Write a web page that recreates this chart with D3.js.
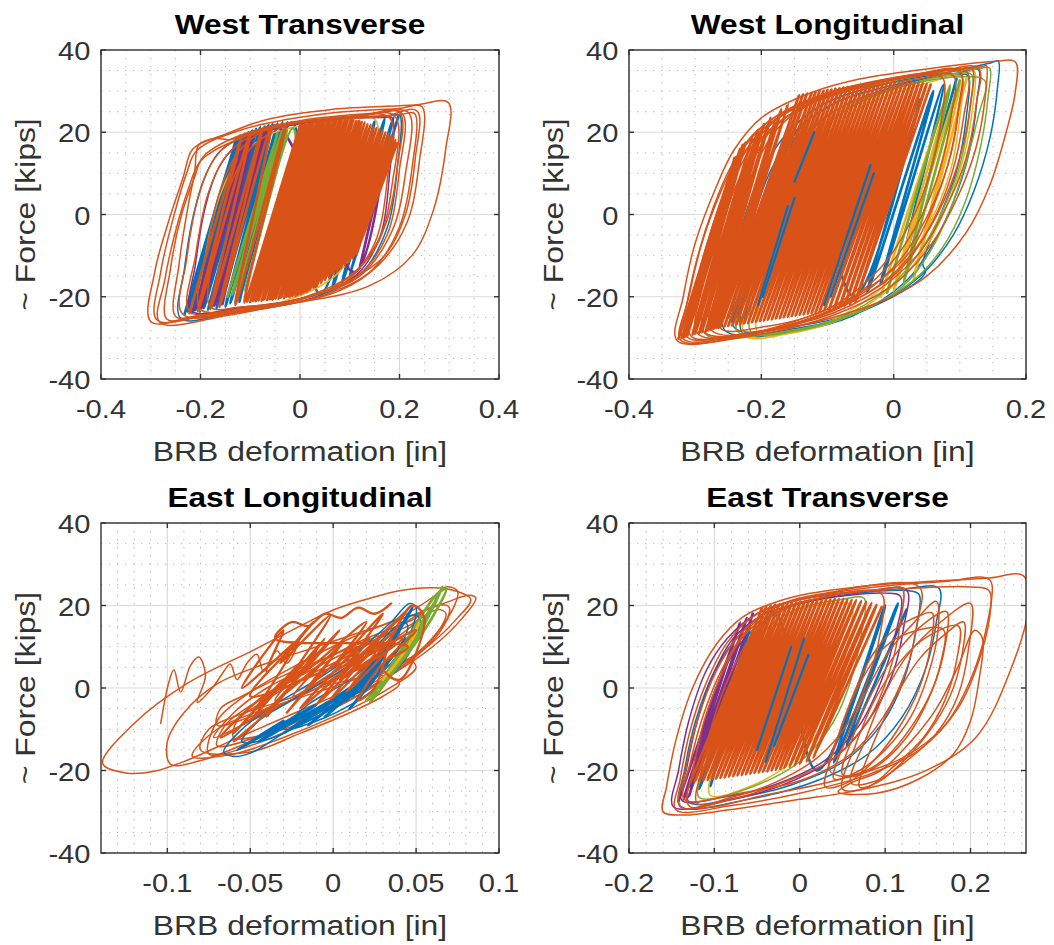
<!DOCTYPE html>
<html>
<head>
<meta charset="utf-8">
<script src="https://cdn.jsdelivr.net/npm/d3@7"></script>
<style>
body { margin: 0; background: #fff; }
svg { display: block; }
</style>
</head>
<body>
<svg id="chart" width="1054" height="945"></svg>
<script>
/***************************************************************************************************
BRB hysteresis, four braces. Each loop / trace is a flat list x0,y0,x1,y1,... read off the figure
(deformation in inches, force in kips).
***************************************************************************************************/

var yTicks = [-40, -20, 0, 20, 40];
var yLabels = ['-40', '-20', '0', '20', '40'];

// ---- West Transverse
var wtXTicks = [-0.4, -0.2, 0, 0.2, 0.4];
var wtXLabels = ['-0.4', '-0.2', '0', '0.2', '0.4'];

var wtBlueLoops = [
	[-0.240,-25.2, -0.232,-13, -0.212,1, -0.188,10, -0.160,15.5, -0.090,20, 0.040,23, 0.180,24, 0.200,24.2, 0.196,12, 0.176,-3, 0.125,-14, 0.020,-20.5, -0.140,-24]
];
var wtBlueTrace = [
	-0.232,-24.2, -0.128,18.6, -0.225,-23.6, -0.121,19.2, -0.217,-24.0, -0.112,19.6, -0.209,-23.2, -0.104,20.0,
	-0.201,-23.6, -0.096,20.4, -0.193,-22.8, -0.088,20.8, -0.185,-23.2, -0.080,21.2, -0.176,-22.4, -0.071,21.4,
	-0.168,-22.8, -0.063,21.8, -0.160,-22.0, -0.055,22.0, -0.150,-22.4, -0.045,22.2, -0.140,-21.6, -0.035,22.4,
	-0.130,-21.4, -0.025,22.4, -0.122,-21.2, -0.016,22.4,
	0.040,-19.5, 0.150,22.6, 0.065,-18.0, 0.170,23.2, 0.085,-16.5, 0.188,23.6, 0.100,-15, 0.198,24.0
];
var wtYellowLoops = [
	[-0.200,-23.2, -0.190,-10, -0.160,5, -0.120,14, -0.060,19.5, 0.050,22.5, 0.150,23.2, 0.146,10, 0.120,-6, 0.070,-15, -0.030,-21, -0.130,-23]
];
var wtPurpleLoops = [
	[-0.218,-23.4, -0.210,-12, -0.190,2, -0.165,11, -0.130,16.5, -0.060,20.5, 0.060,23, 0.170,23.6, 0.185,23.5, 0.180,10, 0.162,-5, 0.115,-14.5, 0.020,-20, -0.120,-22.6]
];
var wtPurpleTrace = [
	-0.212,-23.2, -0.108,19.4, -0.198,-22.8, -0.094,20.0, -0.172,-22.2, -0.068,21.0, -0.156,-21.8, -0.052,21.6,
	0.110,-14, 0.170,14, 0.120,-13, 0.175,16
];
var wtGreenTrace = [
	-0.146,-20, -0.045,20, -0.136,-19.5, -0.036,20.4, -0.124,-19, -0.026,20.6, -0.110,-18.5, -0.014,21, 0.000,-10, 0.055,22.5
];
var wtOrangeLoops = [
	[-0.300,-26.0, -0.292,-14, -0.265,-2, -0.235,9, -0.215,16, -0.150,19.5, -0.070,23, 0.060,25.5, 0.230,26.6, 0.298,27.2, 0.293,16, 0.268,1, 0.225,-10, 0.140,-17.3, 0.000,-21.3, -0.200,-24.6],
	[-0.288,-25.6, -0.280,-14, -0.255,-1, -0.228,10, -0.208,15.5, -0.120,20.5, 0.050,24.5, 0.200,25.8, 0.245,26.2, 0.240,13, 0.215,-2, 0.160,-12, 0.080,-18.5, -0.080,-23, -0.200,-25],
	[-0.268,-25.4, -0.260,-13, -0.238,0, -0.212,9, -0.195,14, -0.130,18.8, 0.000,22.8, 0.150,24.6, 0.218,24.8, 0.212,10, 0.185,-4, 0.120,-15, 0.030,-19.5, -0.120,-23.5, -0.220,-25.2],
	[-0.250,-24.8, -0.243,-12, -0.225,2, -0.212,10, -0.203,17, -0.170,18.5, -0.140,18.2, -0.060,21.5, 0.100,23.5, 0.190,24, 0.186,8, 0.152,-8, 0.070,-17.5, -0.080,-22.5, -0.200,-24.5],
	[-0.236,-24.2, -0.228,-11, -0.205,4, -0.180,12, -0.150,16.5, -0.080,20.5, 0.060,23.2, 0.200,24.2, 0.230,24.6, 0.226,12, 0.200,-3, 0.145,-13.5, 0.050,-19.5, -0.100,-23.2],
	[-0.222,-23.6, -0.210,-10, -0.185,5, -0.150,14, -0.100,19, 0.000,22.5, 0.130,24.2, 0.205,24.6, 0.200,11, 0.175,-5, 0.120,-14.5, 0.020,-20, -0.120,-23],
	[-0.200,-23, -0.188,-9, -0.160,6, -0.125,15, -0.070,20.5, 0.040,23, 0.165,23.8, 0.235,25.2, 0.232,14, 0.212,0, 0.170,-10, 0.100,-16, 0.000,-20.5, -0.110,-22.8],
	[-0.180,-22.5, -0.170,-8, -0.140,7, -0.100,16, -0.030,21.5, 0.080,23.5, 0.180,23.5, 0.176,9, 0.150,-7, 0.090,-16.5, -0.020,-21, -0.120,-22.5],
	[-0.282,-26.2, -0.272,-16, -0.250,-4, -0.225,6, -0.200,13, -0.140,17.5, -0.040,21.5, 0.120,24, 0.200,24.8, 0.196,12, 0.170,-3, 0.110,-14, 0.000,-20.5, -0.150,-24.6]
];
var wtOrangeTrace = [
	-0.222,-24, -0.118,19, -0.205,-23.5, -0.100,19.8, -0.180,-23, -0.076,20.8, -0.162,-22.5, -0.058,21.6, -0.130,-22, -0.028,22,
	-0.112,-21.4, 0.000,21.6, -0.106,-21.2, 0.004,21.8, -0.100,-21.3, 0.010,21.9, -0.094,-21.0, 0.016,22.1,
	-0.089,-21.1, 0.022,22.2, -0.083,-20.9, 0.027,22.4, -0.077,-21.0, 0.033,22.4, -0.072,-20.7, 0.038,22.6,
	-0.066,-20.8, 0.044,22.6, -0.060,-20.6, 0.050,22.8, -0.055,-20.7, 0.056,22.8, -0.049,-20.4, 0.061,22.9,
	-0.043,-20.5, 0.067,22.9, -0.038,-20.2, 0.073,23.0, -0.032,-20.3, 0.079,23.0, -0.026,-20.0, 0.084,23.1,
	-0.021,-20.1, 0.090,23.0, -0.015,-19.8, 0.096,23.1, -0.009,-19.8, 0.102,23.0, -0.004,-19.5, 0.107,23.0,
	0.002,-19.4, 0.113,22.8, 0.008,-19.0, 0.119,22.8, 0.014,-18.8, 0.124,22.5, 0.020,-18.3, 0.130,22.4,
	0.027,-17.8, 0.136,22.0, 0.034,-17.4, 0.142,21.8, 0.042,-16.7, 0.148,21.4, 0.050,-16.0, 0.154,21.1,
	0.058,-15.3, 0.160,20.7, 0.066,-14.6, 0.166,20.4, 0.074,-13.9, 0.172,20.0, 0.082,-13.1, 0.178,19.6,
	0.090,-12.3, 0.184,19.2, 0.098,-11.5, 0.188,18.7, 0.106,-10.6, 0.192,18.1, 0.114,-9.6, 0.195,17.3
];

// ---- West Longitudinal
var wlXTicks = [-0.4, -0.2, 0, 0.2];
var wlXLabels = ['-0.4', '-0.2', '0', '0.2'];

var wlBlueLoops = [
	[-0.255,-28.2, -0.247,-16, -0.228,-2, -0.200,10, -0.165,19, -0.110,26.5, -0.020,31.5, 0.080,34.5, 0.145,36.8, 0.158,37.3, 0.157,31, 0.146,19, 0.122,6, 0.090,-5, 0.040,-15, -0.040,-23, -0.140,-27.5],
	[-0.240,-27.6, -0.232,-15, -0.212,-1, -0.185,11, -0.150,20, -0.090,27, 0.000,31.5, 0.100,34, 0.112,33.8, 0.110,24, 0.094,10, 0.066,-2, 0.044,-12, 0.048,-14, 0.030,-17, -0.050,-23.5, -0.150,-27.2],
	[-0.228,-28.8, -0.220,-16, -0.200,-2, -0.172,10, -0.135,19, -0.075,26.5, 0.010,31.5, 0.100,34.5, 0.128,35.2, 0.126,28, 0.114,15, 0.090,3, 0.060,-7, 0.020,-16, -0.060,-24.5, -0.150,-28.4]
];
var wlBlueTrace = [
	-0.250,-25.0, -0.170,15.0, -0.244,-26.0, -0.160,17.5, -0.236,-25.2, -0.150,18.5, -0.228,-26.2, -0.140,21.0,
	-0.060,-20, 0.040,28, -0.040,-19, 0.060,30, -0.020,-17, 0.075,31.5, 0.010,-14, 0.095,33
];
var wlYellowLoops = [
	[-0.225,-29.4, -0.215,-17, -0.195,-3, -0.165,9, -0.125,19, -0.060,27, 0.030,32, 0.110,34.6, 0.122,34.8, 0.120,27, 0.106,14, 0.080,2, 0.045,-9, -0.005,-18, -0.080,-25.5, -0.160,-29],
	[-0.205,-28.8, -0.196,-17, -0.176,-3, -0.148,9, -0.110,18, -0.050,26, 0.030,31, 0.095,33.6, 0.104,33.2, 0.101,25, 0.088,12, 0.064,1, 0.030,-9, -0.015,-17.5, -0.090,-25.5, -0.150,-28.5]
];
var wlYellowTrace = [-0.020,-20, 0.085,31, 0.000,-18.5, 0.100,32, 0.030,-16, 0.110,33];
var wlGreenLoops = [
	[-0.285,-29.0, -0.276,-18, -0.258,-5, -0.236,7, -0.205,17, -0.150,25, -0.060,30.5, 0.050,34, 0.130,35.5, 0.145,35.6, 0.143,29, 0.132,17, 0.108,3, 0.074,-8, 0.030,-16, -0.060,-24, -0.170,-28.6],
	[-0.235,-28.6, -0.226,-17, -0.205,-3, -0.178,9, -0.140,19, -0.080,26, 0.010,31, 0.100,33.5, 0.138,32.5, 0.128,24, 0.110,13, 0.085,1, 0.055,-9, 0.010,-18, -0.080,-25.5, -0.160,-28.4],
	[-0.215,-28.6, -0.206,-16, -0.186,-2, -0.158,10, -0.120,19, -0.060,26.5, 0.020,31.5, 0.108,34.5, 0.118,34.0, 0.115,25, 0.100,12, 0.074,1, 0.040,-9, -0.005,-17.5, -0.080,-25, -0.150,-28.4]
];
var wlGreenTrace = [-0.010,-19, 0.085,31.5, 0.015,-17, 0.100,32.6];
var wlOrangeLoops = [
	[-0.327,-30.7, -0.318,-20, -0.300,-7, -0.270,6, -0.242,15.5, -0.200,23.5, -0.125,29.6, -0.050,33, 0.050,35.4, 0.150,37.2, 0.184,37.1, 0.184,30, 0.170,20, 0.145,7, 0.110,-4.3, 0.050,-15, -0.010,-20.5, -0.100,-25.4, -0.200,-28.6],
	[-0.318,-30.2, -0.308,-19, -0.288,-6, -0.260,6, -0.232,15, -0.190,22.5, -0.110,29, 0.000,33, 0.080,34.5, 0.118,35.4, 0.116,27, 0.102,15, 0.075,3, 0.035,-8, -0.020,-17, -0.120,-25, -0.220,-29],
	[-0.306,-29.6, -0.297,-18, -0.278,-5, -0.252,7, -0.222,16, -0.180,23, -0.100,29.5, 0.010,33.2, 0.100,34.5, 0.098,25, 0.082,12, 0.052,0, 0.010,-11, -0.050,-19.5, -0.150,-26.5, -0.240,-29.3],
	[-0.296,-29.0, -0.288,-17, -0.268,-3, -0.240,9, -0.210,17.5, -0.165,24.5, -0.080,30, 0.030,33.5, 0.110,34.8, 0.106,24, 0.088,10, 0.058,-2, 0.012,-13, -0.060,-21, -0.170,-27.6],
	[-0.286,-28.6, -0.278,-16, -0.258,-2, -0.230,10, -0.200,18.5, -0.150,25, -0.070,30, 0.040,33, 0.090,33.8, 0.087,24, 0.070,11, 0.040,-1, -0.005,-12, -0.080,-22, -0.190,-28],
	[-0.275,-28.2, -0.266,-15, -0.246,-1, -0.218,11, -0.190,19.5, -0.140,26, -0.060,31, 0.050,34, 0.128,35.6, 0.125,27, 0.110,14, 0.080,2, 0.035,-10, -0.040,-20, -0.150,-26.8],
	[-0.262,-27.6, -0.254,-14, -0.235,0, -0.208,12, -0.178,20.5, -0.125,27, -0.040,31.5, 0.060,34, 0.075,33, 0.072,23, 0.055,10, 0.025,-2, -0.020,-13, -0.100,-23, -0.200,-27.4],
	[-0.322,-30.5, -0.313,-22, -0.296,-10, -0.272,2, -0.248,11, -0.215,19, -0.160,25.5, -0.080,30.5, 0.020,33.8, 0.135,36, 0.140,36.2, 0.138,28, 0.124,16, 0.096,4, 0.058,-7, 0.000,-17, -0.100,-25, -0.220,-29.6],
	[-0.312,-29.8, -0.302,-20, -0.284,-8, -0.258,4, -0.232,13, -0.200,20.5, -0.140,26.5, -0.060,31, 0.040,34.3, 0.100,35, 0.098,26, 0.085,14, 0.060,2, 0.020,-10, -0.050,-19, -0.150,-26, -0.240,-29.5]
];
var wlOrangeTrace = [
	-0.325,-30.2, -0.240,14.0, -0.320,-30.0, -0.232,16.0, -0.316,-29.8, -0.228,17.0, -0.312,-29.6, -0.224,17.5,
	-0.304,-29.2, -0.214,18.6, -0.300,-29.0, -0.205,20.5, -0.294,-28.8, -0.204,19.8, -0.290,-28.6, -0.196,22.0,
	-0.284,-28.4, -0.192,21.0, -0.280,-28.2, -0.186,23.5, -0.276,-28.0, -0.180,22.4, -0.272,-27.8, -0.170,25.5,
	-0.265,-27.6, -0.160,26.8,
	-0.268,-27.6, -0.143,29.0, -0.262,-27.4, -0.137,29.2, -0.256,-27.3, -0.131,29.4, -0.250,-27.1, -0.124,29.6,
	-0.244,-27.0, -0.118,29.8, -0.238,-26.8, -0.112,30.0, -0.232,-26.7, -0.106,30.1, -0.226,-26.5, -0.100,30.3,
	-0.220,-26.4, -0.094,30.4, -0.214,-26.2, -0.088,30.6, -0.208,-26.1, -0.082,30.7, -0.202,-25.9, -0.076,30.9,
	-0.196,-25.8, -0.070,31.0, -0.190,-25.6, -0.064,31.1, -0.184,-25.5, -0.058,31.2, -0.178,-25.3, -0.052,31.3,
	-0.172,-25.2, -0.046,31.4, -0.166,-25.0, -0.040,31.5, -0.160,-24.9, -0.034,31.6, -0.154,-24.7, -0.028,31.7,
	-0.148,-24.6, -0.022,31.8, -0.142,-24.4, -0.016,31.9, -0.136,-24.3, -0.010,32.0, -0.130,-24.1, -0.004,32.0,
	-0.124,-24.0, 0.002,32.1, -0.118,-23.8, 0.008,32.1, -0.112,-23.6, 0.014,32.2, -0.105,-23.4, 0.020,32.2,
	-0.098,-23.2, 0.026,32.2, -0.090,-22.9, 0.032,32.2, -0.082,-22.6, 0.038,32.1, -0.074,-22.2, 0.044,32.0,
	-0.066,-21.8, 0.050,31.8, -0.058,-21.3, 0.056,31.6
];
var wlBlueTop = [
	[-0.205,-22, -0.160,2], [-0.198,-20, -0.150,4], [-0.105,-22, -0.035,12], [-0.095,-20, -0.030,10], [-0.150,8, -0.120,20]
];

// ---- East Longitudinal
var elXTicks = [-0.1, -0.05, 0, 0.05, 0.1];
var elXLabels = ['-0.1', '-0.05', '0', '0.05', '0.1'];

var elOrangeLoops = [
	[-0.139,-18.3, -0.125,-20.6, -0.108,-20.2, -0.088,-17.5, -0.060,-12.5, -0.020,-5.5, 0.020,1.5, 0.055,9.5, 0.075,17, 0.083,21.5, 0.074,23.5, 0.060,24.3, 0.040,23.6, 0.020,21.5, 0.000,18.9, -0.020,15, -0.048,9.2, -0.088,1.1, -0.120,-8.6],
	[-0.098,-18.5, -0.080,-17.6, -0.050,-13, -0.010,-6, 0.030,2, 0.060,10, 0.078,17, 0.086,21.8, 0.082,22.5, 0.070,21, 0.050,18, 0.020,14, -0.010,10, -0.040,6, -0.070,1, -0.090,-6, -0.100,-13],
	[-0.075,-16, -0.050,-14, -0.010,-7, 0.030,2, 0.055,10, 0.072,19, 0.075,23.5, 0.068,24.5, 0.060,22, 0.040,17, 0.010,12, -0.020,6, -0.050,-1, -0.070,-8],
	[-0.070,-14, -0.040,-11, 0.000,-4, 0.035,4, 0.060,12, 0.068,18, 0.063,19, 0.045,15, 0.015,10, -0.015,4, -0.045,-3, -0.065,-9],
	[-0.060,-12, -0.030,-10, 0.010,-3, 0.045,6, 0.065,14, 0.070,19.5, 0.062,20, 0.040,15, 0.010,8, -0.020,2, -0.045,-4, -0.058,-8],
	[-0.080,-15, -0.050,-15.5, -0.020,-11, 0.010,-6, 0.030,-2, 0.040,1, 0.030,3, 0.000,1, -0.030,-3, -0.060,-7, -0.075,-10],
	[-0.072,-12, -0.060,-6, -0.040,0, -0.010,6, 0.020,12, 0.050,17, 0.055,19, 0.050,16, 0.030,10, 0.000,3, -0.030,-4, -0.055,-9],
	[-0.085,-16.5, -0.060,-16, -0.030,-12, 0.000,-7, 0.030,-1, 0.050,5, 0.045,7, 0.020,3, -0.010,-1, -0.040,-5, -0.070,-10],
	[-0.070,-9, -0.050,-7, -0.020,-2, 0.010,4, 0.035,10, 0.040,14, 0.030,13, 0.000,8, -0.030,3, -0.055,-2, -0.068,-5]
];
var elBlueLoops = [
	[-0.066,-15.5, -0.060,-16.6, -0.050,-15.8, -0.030,-11, 0.000,-4, 0.030,4, 0.045,12, 0.050,19.5, 0.046,20.5, 0.035,16, 0.015,9, -0.010,2, -0.035,-4, -0.055,-10],
	[-0.055,-13, -0.040,-12.5, -0.015,-8, 0.015,-1, 0.035,7, 0.045,15, 0.042,16, 0.025,10, 0.000,3, -0.025,-3, -0.045,-8],
	[-0.030,-10, -0.010,-8, 0.015,-3, 0.035,3, 0.048,10, 0.052,17, 0.047,17.5, 0.030,9, 0.010,2, -0.015,-4]
];
var elBlueTrace = [
	0.000,-5, 0.036,12, 0.004,-4, 0.040,14, 0.008,-3, 0.043,16, 0.012,-2, 0.046,18, 0.016,-1, 0.048,19.5, 0.020,0, 0.044,12,
	0.010,-5, 0.032,6, -0.005,-7, 0.026,4, -0.015,-9, 0.018,2, -0.030,-11, 0.008,-1, -0.045,-13, -0.010,-4, -0.058,-15, -0.030,-8
];
var elGreenTrace = [0.020,-3, 0.050,12, 0.066,24.5, 0.060,20, 0.040,8, 0.028,0, 0.055,14, 0.068,24, 0.062,22.5, 0.045,12, 0.022,-3.5, 0.040,6, 0.058,18, 0.064,23];
var elYellowTrace = [0.030,2, 0.045,10, 0.052,16, 0.048,12];
var elOrangeWiggle = [
	-0.104,-8.6, -0.099,1.5, -0.096,4.4, -0.092,-1, -0.086,5.5, -0.081,7.5, -0.077,3, -0.082,-3.5, -0.072,0.5, -0.066,4,
	-0.062,5.8, -0.058,2, -0.052,6, -0.046,8.2, -0.042,4, -0.034,9, -0.028,6, -0.020,12
];
var elOrangeTrace = [
	-0.020,12, -0.045,-4, -0.060,-11, -0.030,2, -0.050,-8, -0.018,7, -0.045,-5, -0.010,9, -0.040,-7, -0.005,12, -0.035,-3, 0.000,8,
	-0.028,-6, 0.006,11, -0.024,-2, 0.010,6, -0.020,-5, 0.014,10, -0.015,0, 0.018,8, -0.010,-4, 0.022,12, -0.006,1,
	0.026,9, -0.002,-3, 0.030,13, 0.004,2, 0.034,10, 0.008,-1, 0.038,14, 0.012,4, 0.042,12,
	-0.050,-2, -0.020,12, -0.055,0, -0.030,14, -0.040,4, -0.012,16, -0.032,6, -0.002,17.5, -0.026,2, 0.004,14,
	-0.048,-9, -0.060,-13, -0.035,-4, -0.068,-12, -0.042,-2, -0.020,3, 0.020,16, 0.000,5, 0.030,18, 0.010,6,
	0.045,19, 0.020,8, 0.050,14, 0.030,5, 0.040,2, 0.055,17, 0.048,20, 0.035,12, 0.025,0, 0.015,-3, 0.030,6, 0.045,10,
	-0.035,12, -0.025,16, -0.015,15, -0.005,18, 0.005,17, 0.015,19.5, 0.025,18, 0.035,20.5
];

// ---- East Transverse
var etXTicks = [-0.2, -0.1, 0, 0.1, 0.2];
var etXLabels = ['-0.2', '-0.1', '0', '0.1', '0.2'];

var etBlueLoops = [
	[-0.140,-28.6, -0.135,-20, -0.122,-8, -0.100,4, -0.070,13, -0.030,19.5, 0.040,22.8, 0.120,24, 0.163,24.2, 0.160,16, 0.148,5, 0.120,-7, 0.080,-16, 0.020,-22.5, -0.060,-27],
	[-0.130,-27.6, -0.124,-19, -0.110,-7, -0.090,4, -0.060,13, -0.020,19, 0.050,22.5, 0.130,23.5, 0.140,22.6, 0.136,14, 0.122,2, 0.095,-9, 0.050,-18, -0.010,-23.5, -0.070,-26.5]
];
var etBlueTrace = [
	-0.128,-24, -0.058,15, -0.118,-24.5, -0.046,16, -0.105,-23.8, -0.030,18,
	0.020,-20, 0.100,20, 0.040,-18, 0.115,20.5, 0.055,-14, 0.125,19
];
var etYellowLoops = [
	[-0.105,-26, -0.098,-17, -0.082,-6, -0.062,5, -0.038,13, -0.005,18.5, 0.040,20.5, 0.060,20.2, 0.056,11, 0.044,0, 0.024,-10, -0.010,-18, -0.060,-24]
];
var etPurpleLoops = [
	[-0.148,-28.8, -0.142,-20, -0.130,-8, -0.110,4, -0.085,12, -0.050,18, 0.000,21.5, 0.080,23.5, 0.125,23.8, 0.122,15, 0.108,3, 0.080,-8, 0.040,-17, -0.020,-23.5, -0.090,-27.5],
	[-0.138,-27.2, -0.132,-19, -0.120,-8, -0.102,3, -0.078,12, -0.045,17.5, 0.010,21, 0.100,23, 0.118,22.2, 0.112,13, 0.096,2, 0.070,-9, 0.030,-17.5, -0.030,-23.5, -0.090,-26.5]
];
var etPurpleTrace = [-0.142,-27.5, -0.070,16, -0.136,-27, -0.062,17, -0.130,-26.5, -0.055,18];
var etGreenLoops = [
	[-0.118,-26.5, -0.110,-18, -0.095,-6, -0.072,5, -0.045,13, -0.010,18.5, 0.050,21.5, 0.075,21.8, 0.072,13, 0.060,2, 0.040,-8, 0.005,-17, -0.050,-23.5]
];
var etOrangeLoops = [
	[-0.160,-30.0, -0.156,-23.9, -0.144,-11.8, -0.125,0.3, -0.097,10.8, -0.066,17.3, -0.007,22.1, 0.071,24.6, 0.149,25.8, 0.219,26.6, 0.262,27.2, 0.268,20, 0.247,4.4, 0.207,-11.8, 0.149,-19.9, 0.071,-24.7, -0.007,-27.2, -0.085,-29.6, -0.136,-30.8],
	[-0.145,-29.5, -0.140,-22, -0.128,-10, -0.110,1, -0.085,11, -0.050,18, 0.010,22, 0.090,24.5, 0.170,25.8, 0.222,26.3, 0.224,20, 0.212,8, 0.185,-5, 0.140,-15, 0.080,-21, 0.000,-25.5, -0.080,-28.5],
	[-0.130,-28.5, -0.125,-20, -0.112,-8, -0.092,3, -0.068,12, -0.030,18.5, 0.040,22.5, 0.120,24, 0.200,24.5, 0.222,23.5, 0.218,14, 0.200,2, 0.170,-9, 0.120,-17, 0.050,-22, -0.030,-25.5],
	[-0.140,-28.8, -0.134,-20, -0.120,-8, -0.098,4, -0.070,13, -0.030,19.5, 0.030,22.5, 0.100,24, 0.120,24.2, 0.118,16, 0.105,4, 0.080,-8, 0.040,-17, -0.020,-23, -0.080,-27],
	[-0.120,-28, -0.114,-19, -0.100,-7, -0.080,4, -0.055,13, -0.020,19, 0.040,22.5, 0.090,23.5, 0.098,22, 0.094,13, 0.080,2, 0.055,-9, 0.020,-17, -0.030,-23, -0.080,-26.5],
	[-0.135,-27, -0.128,-18, -0.112,-6, -0.090,5, -0.062,14, -0.025,20, 0.030,23, 0.140,24.5, 0.138,16, 0.124,4, 0.098,-7, 0.060,-16, 0.000,-22.5, -0.070,-25.5],
	[0.030,-24, 0.040,-15, 0.060,-3, 0.085,8, 0.110,14, 0.140,17.5, 0.155,18.2, 0.153,10, 0.140,0, 0.115,-10, 0.085,-18, 0.060,-22.5],
	[0.035,-20, 0.048,-10, 0.070,1, 0.100,10, 0.130,13.5, 0.168,14.2, 0.165,6, 0.150,-3, 0.125,-12, 0.090,-19, 0.060,-21.5],
	[0.050,-24.5, 0.065,-14, 0.090,-2, 0.120,7, 0.150,12.5, 0.186,15, 0.184,7, 0.170,-3, 0.145,-12, 0.110,-19, 0.080,-24],
	[0.060,-23, 0.078,-12, 0.100,-1, 0.130,9, 0.165,16, 0.200,20.5, 0.198,10, 0.185,-2, 0.160,-11, 0.120,-18.5, 0.090,-22.5],
	[0.040,-22, 0.055,-12, 0.080,0, 0.105,9, 0.130,15, 0.160,21, 0.162,14, 0.150,3, 0.130,-7, 0.100,-15, 0.070,-20],
	[0.045,-25.2, 0.090,-25.5, 0.140,-22, 0.180,-16, 0.200,-8, 0.210,2, 0.214,12, 0.205,14, 0.185,5, 0.160,-5, 0.130,-13, 0.095,-20, 0.060,-23],
	[0.070,-24, 0.085,-14, 0.110,-3, 0.140,7, 0.170,13, 0.192,16, 0.190,8, 0.176,-2, 0.150,-11, 0.115,-19, 0.090,-23],
	[0.050,-21, 0.062,-12, 0.085,-1, 0.115,9, 0.145,15.5, 0.172,18.5, 0.170,10, 0.156,0, 0.132,-9, 0.100,-17, 0.072,-20.5]
];
var etOrangeTrace = [
	-0.128,-22.8, -0.044,19.6, -0.123,-22.7, -0.039,19.8, -0.118,-22.6, -0.034,20.0, -0.113,-22.4, -0.029,20.2,
	-0.108,-22.3, -0.024,20.3, -0.103,-22.1, -0.019,20.5, -0.098,-22.0, -0.014,20.6, -0.093,-21.8, -0.009,20.8,
	-0.088,-21.7, -0.004,20.9, -0.083,-21.5, 0.001,21.0, -0.078,-21.4, 0.006,21.1, -0.073,-21.2, 0.011,21.2,
	-0.068,-21.1, 0.016,21.3, -0.063,-20.9, 0.021,21.4, -0.058,-20.8, 0.026,21.4, -0.053,-20.6, 0.031,21.5,
	-0.048,-20.5, 0.036,21.5, -0.043,-20.3, 0.041,21.6, -0.038,-20.2, 0.046,21.6, -0.033,-20.0, 0.051,21.6,
	-0.028,-19.8, 0.056,21.5, -0.023,-19.6, 0.061,21.4, -0.018,-19.4, 0.066,21.3, -0.012,-19.1, 0.072,21.1,
	-0.006,-18.8, 0.078,20.9, 0.000,-18.4, 0.084,20.6, 0.008,-17.8, 0.090,20.2, 0.016,-17.0, 0.096,19.6
];
var etBlueTop = [
	[-0.050,-15, -0.010,10], [-0.040,-18, 0.005,12], [-0.030,-14, 0.010,8]
];

(function () {

var C = { blue: '#0072BD', orange: '#D95319', yellow: '#EDB120', purple: '#7E2F8E', green: '#77AC30' };
var FONT = '"Liberation Sans", Arial, Helvetica, sans-serif';

var panels = [
	{ title: 'West Transverse', box: [101, 50, 499, 379], xDomain: [-0.4, 0.4], xTicks: wtXTicks, xLabels: wtXLabels, xMinor: 0.05,
	  layers: [
		{ color: C.blue, loops: wtBlueLoops, trace: wtBlueTrace },
		{ color: C.yellow, loops: wtYellowLoops },
		{ color: C.purple, loops: wtPurpleLoops, trace: wtPurpleTrace },
		{ color: C.green, trace: wtGreenTrace },
		{ color: C.orange, loops: wtOrangeLoops, trace: wtOrangeTrace }
	  ] },
	{ title: 'West Longitudinal', box: [629, 50, 1026, 379], xDomain: [-0.4, 0.2], xTicks: wlXTicks, xLabels: wlXLabels, xMinor: 0.05,
	  layers: [
		{ color: C.blue, loops: wlBlueLoops, trace: wlBlueTrace },
		{ color: C.yellow, loops: wlYellowLoops, trace: wlYellowTrace },
		{ color: C.green, loops: wlGreenLoops, trace: wlGreenTrace },
		{ color: C.orange, loops: wlOrangeLoops, trace: wlOrangeTrace },
		{ color: C.blue, segments: wlBlueTop }
	  ] },
	{ title: 'East Longitudinal', box: [101, 523, 499, 853], xDomain: [-0.14, 0.1], xTicks: elXTicks, xLabels: elXLabels, xMinor: 0.01,
	  layers: [
		{ color: C.orange, loops: elOrangeLoops },
		{ color: C.blue, loops: elBlueLoops, trace: elBlueTrace },
		{ color: C.green, trace: elGreenTrace },
		{ color: C.yellow, trace: elYellowTrace },
		{ color: C.orange, trace: elOrangeWiggle, width: 1.5 },
		{ color: C.orange, trace: elOrangeTrace, width: 2.3 }
	  ] },
	{ title: 'East Transverse', box: [629, 523, 1026, 853], xDomain: [-0.2, 0.265], xTicks: etXTicks, xLabels: etXLabels, xMinor: 0.02,
	  layers: [
		{ color: C.blue, loops: etBlueLoops, trace: etBlueTrace },
		{ color: C.yellow, loops: etYellowLoops },
		{ color: C.purple, loops: etPurpleLoops, trace: etPurpleTrace },
		{ color: C.green, loops: etGreenLoops },
		{ color: C.orange, loops: etOrangeLoops, trace: etOrangeTrace },
		{ color: C.blue, segments: etBlueTop }
	  ] }
];

var svg = d3.select('#chart');

function pairs(a) {
	var out = [];
	for (var i = 0; i + 1 < a.length; i += 2) out.push([a[i], a[i + 1]]);
	return out;
}

// minor grid positions between the majors, inside the domain
function minorValues(domain, step, majors) {
	var out = [];
	var k0 = Math.ceil(domain[0] / step - 1e-6), k1 = Math.floor(domain[1] / step + 1e-6);
	for (var k = k0; k <= k1; k++) {
		var v = k * step;
		var isMajor = majors.some(function (m) { return Math.abs(m - v) < step / 10; });
		if (!isMajor && v > domain[0] + 1e-9 && v < domain[1] - 1e-9) out.push(v);
	}
	return out;
}

function text(g, s, x, y, size, anchor, opts) {
	opts = opts || {};
	var tr = 'translate(' + x + ',' + y + ')' + (opts.rotate ? ' rotate(-90)' : '') + ' scale(' + (opts.sx || 1.12) + ',1)';
	return g.append('text')
		.attr('transform', tr)
		.attr('font-family', FONT)
		.attr('font-size', size)
		.attr('font-weight', opts.bold ? 'bold' : 'normal')
		.attr('fill', opts.fill || '#333')
		.attr('text-anchor', anchor)
		.text(s);
}

function drawPanel(p, idx) {
	var L = p.box[0], T = p.box[1], R = p.box[2], B = p.box[3];
	var x = d3.scaleLinear().domain(p.xDomain).range([L, R]);
	var y = d3.scaleLinear().domain([-40, 40]).range([B, T]);
	var g = svg.append('g').attr('class', 'panel');

	// minor grid (dotted)
	var grid = g.append('g').attr('class', 'grid');
	grid.selectAll('.xminor').data(minorValues(p.xDomain, p.xMinor, p.xTicks)).enter().append('line')
		.attr('x1', function (d) { return x(d); }).attr('x2', function (d) { return x(d); })
		.attr('y1', T).attr('y2', B);
	grid.selectAll('.yminor').data(minorValues([-40, 40], 5, yTicks)).enter().append('line')
		.attr('y1', function (d) { return y(d); }).attr('y2', function (d) { return y(d); })
		.attr('x1', L).attr('x2', R);
	grid.selectAll('line').attr('stroke', '#b4b4b4').attr('stroke-width', 1).attr('stroke-dasharray', '1.3,6.7');

	// major grid
	var major = g.append('g').attr('class', 'major');
	major.selectAll('.xg').data(p.xTicks).enter().append('line')
		.attr('x1', function (d) { return x(d); }).attr('x2', function (d) { return x(d); })
		.attr('y1', T).attr('y2', B);
	major.selectAll('.yg').data(yTicks).enter().append('line')
		.attr('y1', function (d) { return y(d); }).attr('y2', function (d) { return y(d); })
		.attr('x1', L).attr('x2', R);
	major.selectAll('line').attr('stroke', '#dadada').attr('stroke-width', 1.2);

	// data
	var clipId = 'clip' + idx;
	svg.append('clipPath').attr('id', clipId).append('rect')
		.attr('x', L).attr('y', T).attr('width', R - L).attr('height', B - T);
	var data = g.append('g').attr('clip-path', 'url(#' + clipId + ')')
		.attr('fill', 'none').attr('stroke-linejoin', 'round').attr('stroke-linecap', 'round');

	var loopLine = d3.line().x(function (d) { return x(d[0]); }).y(function (d) { return y(d[1]); })
		.curve(d3.curveCatmullRomClosed.alpha(0.5));
	var traceLine = d3.line().x(function (d) { return x(d[0]); }).y(function (d) { return y(d[1]); })
		.curve(d3.curveCatmullRom.alpha(0.5));

	p.layers.forEach(function (layer) {
		if (layer.loops) {
			data.selectAll(null).data(layer.loops).enter().append('path')
				.attr('d', function (d) { return loopLine(pairs(d)); })
				.attr('stroke', layer.color).attr('stroke-width', 1.5);
		}
		if (layer.trace) {
			data.append('path').attr('d', traceLine(pairs(layer.trace)))
				.attr('stroke', layer.color).attr('stroke-width', layer.width || 2.7);
		}
		if (layer.segments) {
			data.selectAll(null).data(layer.segments).enter().append('path')
				.attr('d', function (d) { return traceLine(pairs(d)); })
				.attr('stroke', layer.color).attr('stroke-width', 2.2);
		}
	});

	// box and inward ticks on all sides
	var axes = g.append('g').attr('stroke', '#333').attr('stroke-width', 1.4);
	p.xTicks.forEach(function (v) {
		axes.append('line').attr('x1', x(v)).attr('x2', x(v)).attr('y1', B).attr('y2', B - 5);
		axes.append('line').attr('x1', x(v)).attr('x2', x(v)).attr('y1', T).attr('y2', T + 5);
	});
	yTicks.forEach(function (v) {
		axes.append('line').attr('y1', y(v)).attr('y2', y(v)).attr('x1', L).attr('x2', L + 5);
		axes.append('line').attr('y1', y(v)).attr('y2', y(v)).attr('x1', R).attr('x2', R - 5);
	});
	axes.append('rect').attr('x', L).attr('y', T).attr('width', R - L).attr('height', B - T).attr('fill', 'none');

	// tick labels
	p.xTicks.forEach(function (v, i) { text(g, p.xLabels[i], x(v), B + 39, 26, 'middle'); });
	yTicks.forEach(function (v, i) { text(g, yLabels[i], L - 10.5, y(v) + 10, 26, 'end'); });

	// labels and title
	text(g, 'BRB deformation [in]', (L + R) / 2, B + 82, 28, 'middle', { sx: 1.14 });
	text(g, '~ Force [kips]', L - 66, (T + B) / 2, 28, 'middle', { sx: 1.14, rotate: true });
	text(g, p.title, (L + R) / 2, T - 16, 27.5, 'middle', { sx: 1.15, bold: true, fill: '#000' });
}

panels.forEach(drawPanel);

})();
</script>
</body>
</html>
